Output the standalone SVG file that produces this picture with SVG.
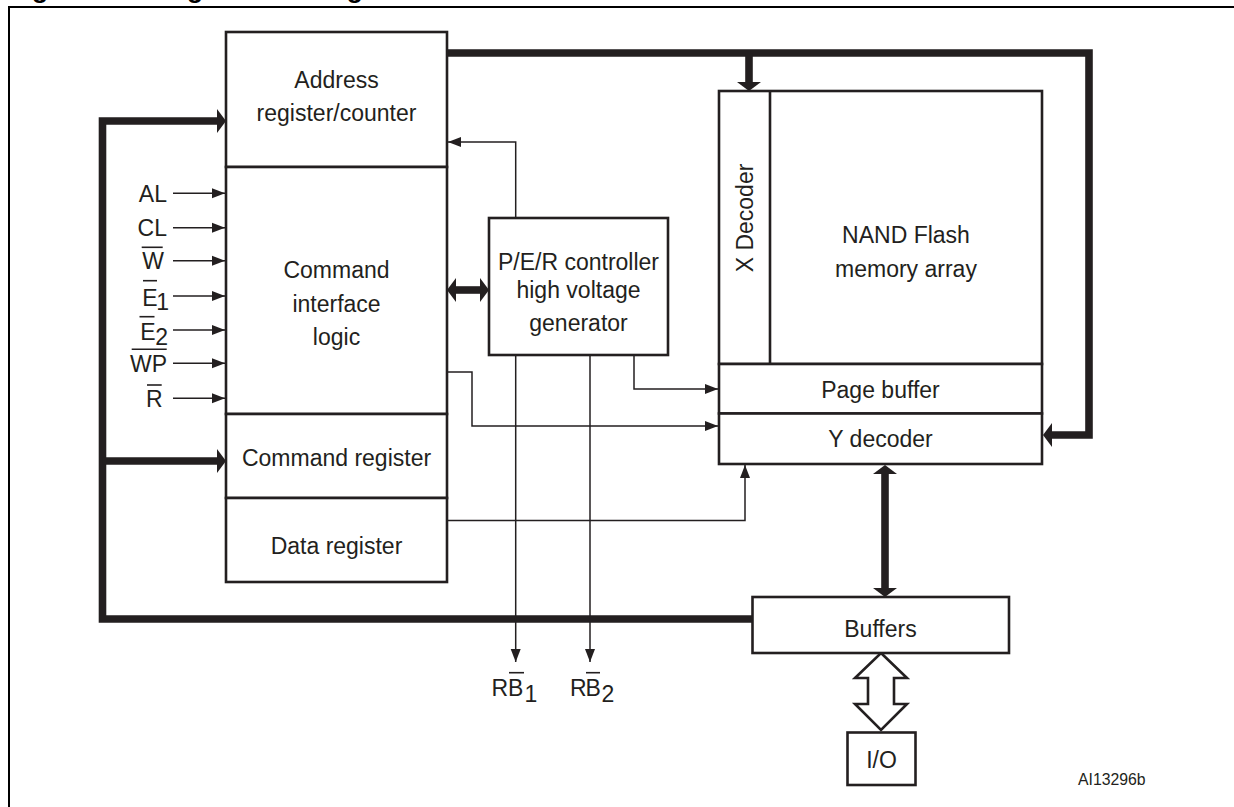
<svg xmlns="http://www.w3.org/2000/svg" width="1234" height="807" viewBox="0 0 1234 807">
<style>
.box{fill:#fff;stroke:#231f20;stroke-width:2.6}
.div{fill:none;stroke:#231f20;stroke-width:2.6}
.t{font-family:"Liberation Sans",Arial,sans-serif;font-size:23px;fill:#231f20;text-anchor:middle}
.s{font-family:"Liberation Sans",Arial,sans-serif;font-size:23px;fill:#231f20;text-anchor:end}
.thin{fill:none;stroke:#231f20;stroke-width:1.5}
.bus{fill:none;stroke:#231f20;stroke-width:7.6;stroke-linejoin:miter}
.bar{stroke:#231f20;stroke-width:1.6}
.title{font-family:"Liberation Sans",Arial,sans-serif;font-size:26.4px;font-weight:bold;fill:#000}
</style>
<defs>
<marker id="a" markerUnits="userSpaceOnUse" markerWidth="13" markerHeight="10" refX="13" refY="5" orient="auto" overflow="visible"><path d="M0,0 L13,5 L0,10 z" fill="#231f20"/></marker>
<marker id="ah" markerUnits="userSpaceOnUse" markerWidth="10" markerHeight="24" refX="0" refY="12" orient="auto-start-reverse" overflow="visible"><path d="M0,0 L9,12 L0,24 z" fill="#231f20"/></marker>
</defs>
<rect width="1234" height="807" fill="#fff"/>
<text class="title" x="8.5" y="-2.5">Figure 2.</text>
<text class="title" x="154.7" y="-2.5">Logic block diagram</text>
<rect x="9" y="7" width="1240" height="820" fill="none" stroke="#000" stroke-width="2"/>

<g id="connectors">
<polyline class="bus" points="753,619 102.5,619 102.5,121 217,121" marker-end="url(#ah)"/>
<line class="bus" x1="102.5" y1="461" x2="217" y2="461" marker-end="url(#ah)"/>
<polyline class="bus" points="447,53 1089,53 1089,435 1052,435" marker-end="url(#ah)"/>
<line class="bus" x1="749" y1="53" x2="749" y2="82" marker-end="url(#ah)"/>
<line class="bus" x1="456" y1="290" x2="480" y2="290" marker-start="url(#ah)" marker-end="url(#ah)"/>
<line class="bus" x1="885" y1="474" x2="885" y2="588" marker-start="url(#ah)" marker-end="url(#ah)"/>
<polyline class="thin" points="515.7,218 515.7,142 448,142" marker-end="url(#a)"/>
<polyline class="thin" points="634,355 634,389 718,389" marker-end="url(#a)"/>
<polyline class="thin" points="447,372 472,372 472,426 718,426" marker-end="url(#a)"/>
<polyline class="thin" points="447,520.5 745,520.5 745,465" marker-end="url(#a)"/>
<line class="thin" x1="515.7" y1="355" x2="515.7" y2="662" marker-end="url(#a)"/>
<line class="thin" x1="590" y1="355" x2="590" y2="662" marker-end="url(#a)"/>
<line class="thin" x1="173" y1="193.3" x2="225" y2="193.3" marker-end="url(#a)"/>
<line class="thin" x1="173" y1="227.7" x2="225" y2="227.7" marker-end="url(#a)"/>
<line class="thin" x1="173" y1="260.7" x2="225" y2="260.7" marker-end="url(#a)"/>
<line class="thin" x1="173" y1="296" x2="225" y2="296" marker-end="url(#a)"/>
<line class="thin" x1="173" y1="330" x2="225" y2="330" marker-end="url(#a)"/>
<line class="thin" x1="173" y1="363.3" x2="225" y2="363.3" marker-end="url(#a)"/>
<line class="thin" x1="173" y1="398.3" x2="225" y2="398.3" marker-end="url(#a)"/>
<polygon points="881,653 907,678 894,678 894,704 907,704 881,730 855,704 868,704 868,678 855,678" fill="#fff" stroke="#231f20" stroke-width="2.6" stroke-linejoin="miter"/>
</g>

<g id="address-register">
<rect class="box" x="226" y="32" width="221" height="135"/>
<text class="t" x="336.5" y="88">Address</text>
<text class="t" x="336.5" y="121">register/counter</text>
</g>
<g id="command-interface">
<rect class="box" x="226" y="167" width="221" height="247"/>
<text class="t" x="336.5" y="278">Command</text>
<text class="t" x="336.5" y="312">interface</text>
<text class="t" x="336.5" y="345">logic</text>
</g>
<g id="command-register">
<rect class="box" x="226" y="414" width="221" height="84"/>
<text class="t" x="336.5" y="466">Command register</text>
</g>
<g id="data-register">
<rect class="box" x="226" y="498" width="221" height="84"/>
<text class="t" x="336.5" y="554">Data register</text>
</g>

<g id="signals">
<text class="s" x="167" y="201.5">AL</text>
<text class="s" x="167" y="236">CL</text>
<text class="s" x="164" y="269.3">W</text>
<line class="bar" x1="141.7" y1="247.3" x2="162.7" y2="247.3"/>
<text class="s" x="157.5" y="305.7">E</text>
<text class="s" x="169" y="310">1</text>
<line class="bar" x1="143" y1="280.7" x2="157" y2="280.7"/>
<text class="s" x="155.5" y="340">E</text>
<text class="s" x="168" y="345">2</text>
<line class="bar" x1="139.5" y1="316.7" x2="154.5" y2="316.7"/>
<text class="s" x="167" y="371.7">WP</text>
<line class="bar" x1="131.7" y1="349.3" x2="166.7" y2="349.3"/>
<text class="s" x="162.5" y="406.7">R</text>
<line class="bar" x1="147" y1="385" x2="161.7" y2="385"/>
</g>

<g id="per-controller">
<rect class="box" x="489" y="218" width="179" height="137"/>
<text class="t" x="578.5" y="270">P/E/R controller</text>
<text class="t" x="578.5" y="298">high voltage</text>
<text class="t" x="578.5" y="331">generator</text>
</g>

<g id="nand-array">
<rect class="box" x="719" y="91" width="323" height="273"/>
<line class="div" x1="770" y1="91" x2="770" y2="364"/>
<text class="t" transform="translate(753,218) rotate(-90)" x="0" y="0">X Decoder</text>
<text class="t" x="906" y="243">NAND Flash</text>
<text class="t" x="906" y="277">memory array</text>
</g>
<g id="page-buffer">
<rect class="box" x="719" y="364" width="323" height="49.5"/>
<text class="t" x="880.5" y="398">Page buffer</text>
</g>
<g id="y-decoder">
<rect class="box" x="719" y="413.5" width="323" height="50.5"/>
<text class="t" x="880.5" y="446.5">Y decoder</text>
</g>

<g id="rb-outputs">
<text class="t" x="491.5" y="695.5" style="text-anchor:start">R</text>
<text class="t" x="508" y="695.5" style="text-anchor:start">B</text>
<line class="bar" x1="509" y1="672.7" x2="524" y2="672.7"/>
<text class="t" x="524.5" y="702" style="text-anchor:start">1</text>
<text class="t" x="570" y="695.5" style="text-anchor:start">R</text>
<text class="t" x="585.5" y="695.5" style="text-anchor:start">B</text>
<line class="bar" x1="586" y1="672.7" x2="600" y2="672.7"/>
<text class="t" x="601.5" y="702" style="text-anchor:start">2</text>
</g>

<g id="buffers">
<rect class="box" x="752.5" y="597" width="256.5" height="56"/>
<text class="t" x="880.5" y="636.5">Buffers</text>
</g>
<g id="io">
<rect class="box" x="847.5" y="732.5" width="68" height="52.5"/>
<text class="t" x="881.5" y="768">I/O</text>
</g>
<text x="1078" y="785" style="font-family:'Liberation Sans',Arial,sans-serif;font-size:15.8px;fill:#231f20">AI13296b</text>
</svg>
